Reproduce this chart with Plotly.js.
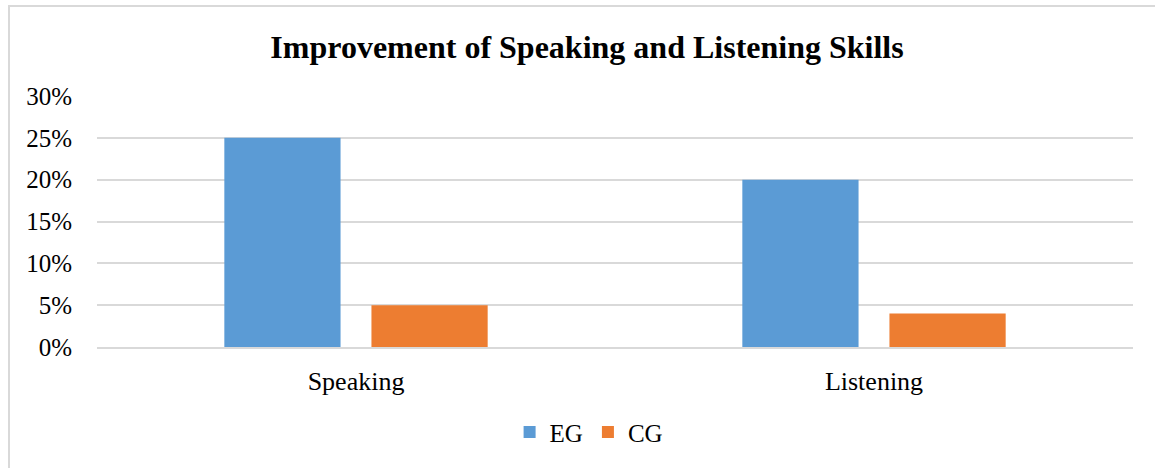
<!DOCTYPE html>
<html>
<head>
<meta charset="utf-8">
<script src="https://cdn.plot.ly/plotly-3.0.1.min.js"></script>
<style>
html,body{margin:0;padding:0;background:#fff;}
#frame{position:absolute;left:8px;top:5px;width:1160px;height:480px;border-top:2px solid #d9d9d9;border-left:2px solid #d9d9d9;}
#chart{position:absolute;left:0;top:0;width:1155px;height:468px;}
</style>
</head>
<body>
<div id="frame"></div>
<div id="chart"></div>
<script>
const categories = ["Speaking", "Listening"];
const seriesNames = ["EG", "CG"];
const egValues = [0.25, 0.20];
const cgValues = [0.05, 0.04];
const seriesColors = ["#5B9BD5", "#ED7D31"];
const yTickVals = [0, 0.05, 0.10, 0.15, 0.20, 0.25, 0.30];
const yTickText = ["0%", "5%", "10%", "15%", "20%", "25%", "30%"];

const font = "'Liberation Serif', 'Times New Roman', serif";

const traces = [egValues, cgValues].map((vals, i) => ({
  type: "bar",
  name: seriesNames[i],
  x: categories,
  y: vals,
  marker: {color: seriesColors[i]},
  hoverinfo: "none"
}));

const layout = {
  width: 1155,
  height: 468,
  paper_bgcolor: "rgba(0,0,0,0)",
  plot_bgcolor: "rgba(0,0,0,0)",
  margin: {l: 97, r: 22, t: 96, b: 119},
  barmode: "group",
  bargap: 0.432,
  bargroupgap: 0.21,
  title: {
    text: "<b>Improvement of Speaking and Listening Skills</b>",
    font: {family: font, size: 32, color: "#000"},
    x: 0.473, xanchor: "center", xref: "paper",
    y: 0.9, yanchor: "middle", yref: "container"
  },
  font: {family: font, size: 25, color: "#000"},
  xaxis: {
    showgrid: false,
    showline: true,
    linecolor: "#d9d9d9",
    linewidth: 2,
    ticks: "",
    tickfont: {family: font, size: 26, color: "#000"},
    ticklabelstandoff: 10
  },
  yaxis: {
    range: [0, 0.30],
    tickvals: yTickVals,
    ticktext: yTickText,
    showgrid: true,
    gridcolor: "#d9d9d9",
    gridwidth: 2,
    zeroline: false,
    showline: false,
    ticks: "",
    ticklabelstandoff: 24,
    tickfont: {family: font, size: 25, color: "#000"}
  },
  showlegend: true,
  legend: {
    orientation: "h",
    x: 0.475, xanchor: "center",
    y: -0.34, yanchor: "middle",
    font: {family: font, size: 25, color: "#000"},
    itemwidth: 30,
    tracegroupgap: 0
  }
};

Plotly.newPlot("chart", traces, layout, {displayModeBar: false, staticPlot: true});
</script>
</body>
</html>
